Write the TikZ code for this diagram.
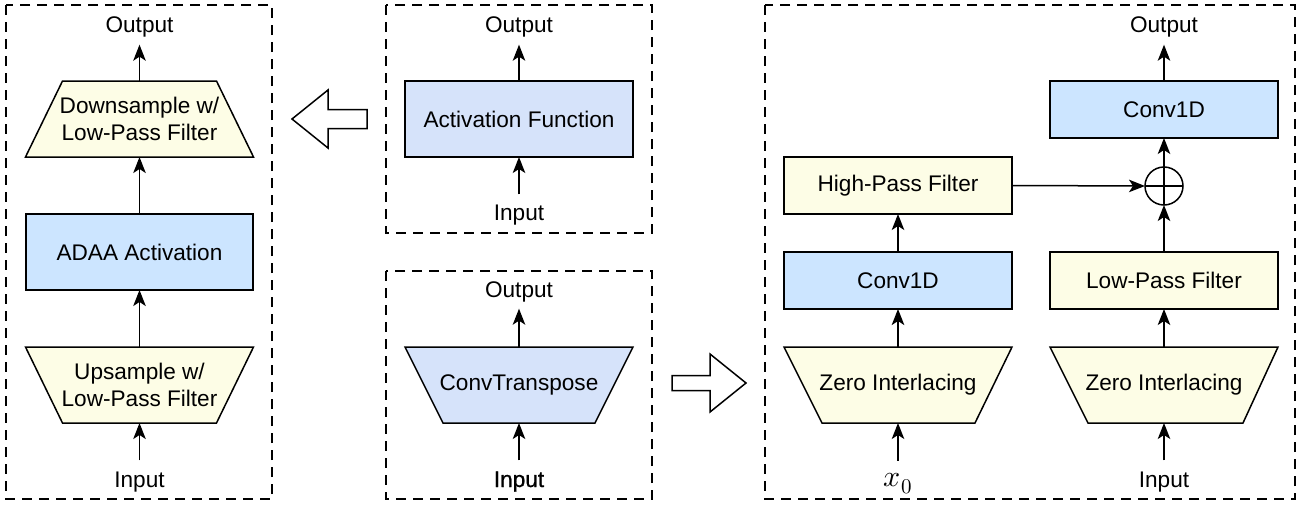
\documentclass[tikz,border=0pt]{standalone}
\usepackage{fontspec}
\usepackage{unicode-math}
\setmainfont{Liberation Sans}
\setmathfont{Latin Modern Math}
\newfontfamily\heavyfont[FakeBold=0.8]{Liberation Sans}
\usetikzlibrary{arrows.meta,calc,backgrounds}

\definecolor{paleyellow}{HTML}{FDFDE6}
\definecolor{convblue}{HTML}{CCE5FF}
\definecolor{actblue}{HTML}{D6E3FA}

\tikzset{
  x=1pt, y=-1pt,
  every node/.style={font=\fontsize{22.6}{27}\selectfont, outer sep=0pt},
  lbl/.style={inner sep=0pt, anchor=base},
  box/.style={draw, line width=1.5pt, minimum width=228pt, inner sep=0pt, align=center},
  tallbox/.style={box, minimum height=76pt},
  flatbox/.style={box, minimum height=57pt},
  trapnode/.style={minimum width=228pt, minimum height=76pt, inner sep=0pt, align=center},
  trapline/.style={draw, line width=1.5pt, line join=miter},
  arr/.style={line width=1.5pt, -{Stealth[length=16pt, width=12.5pt, inset=4pt]}},
  frame/.style={line width=1.4pt, dash pattern=on 10pt off 7pt},
  blockarrow/.style={draw, line width=1.5pt, fill=white, line join=miter},
  sumnode/.style={circle, draw, line width=1.5pt, minimum size=38pt, inner sep=0pt,
    path picture={
      \draw[line width=1.5pt] (path picture bounding box.north) -- (path picture bounding box.south);
      \draw[line width=1.5pt] (path picture bounding box.west) -- (path picture bounding box.east);
    }},
}

\begin{document}
\begin{tikzpicture}
\useasboundingbox (0,0) rectangle (1307,506);

% ---- dashed panels ----
\draw[frame] (6,5) rectangle (272,499);
\draw[frame] (386,5) rectangle (652,233);
\draw[frame] (386,271) rectangle (652,499);
\draw[frame] (765,5) rectangle (1295,499);

% ---- anti-aliased activation block ----
\node[lbl] (o1) at (139.5,32) {Output};
\node[trapnode] (ds) at (139.5,119) {Downsample w/\\Low-Pass Filter};
\node[tallbox, fill=convblue, minimum width=227pt] (adaa) at (139.5,252) {ADAA Activation};
\node[trapnode] (us) at (139.5,385) {Upsample w/\\Low-Pass Filter};
\node[lbl] (i1) at (139.5,487) {Input};

\draw[arr, shorten >=8pt] (ds.north) -- (o1.south);
\draw[arr] (adaa.north) -- (ds.south);
\draw[arr] (us.north) -- (adaa.south);
\draw[arr, shorten <=11pt] (i1.north) -- (us.south);

% ---- plain activation ----
\node[lbl] (o2) at (519,32) {Output};
\node[tallbox, fill=actblue] (act) at (519,119) {Activation Function};
\node[lbl] (i2) at (519,220) {Input};
\draw[arr, shorten >=8pt] (act.north) -- (o2.south);
\draw[arr, shorten <=10pt] (i2.north) -- (act.south);

% ---- transposed convolution ----
\node[lbl] (o3) at (519,297) {Output};
\node[trapnode] (ct) at (519,385) {ConvTranspose};
\node[lbl] (i3) at (519,487) {\heavyfont Input};
\draw[arr, shorten >=7pt] (ct.north) -- (o3.south);
\draw[arr, shorten <=11pt] (i3.north) -- (ct.south);

% ---- alias-free upsampling ----
\node[lbl] (o4) at (1164,32) {Output};
\node[flatbox, fill=convblue] (convout) at (1164,109.5) {Conv1D};
\node[sumnode] (sum) at (1164,186) {};
\node[flatbox, fill=paleyellow] (lpf) at (1164,280.5) {Low-Pass Filter};
\node[trapnode] (zir) at (1164,385) {Zero Interlacing};
\node[lbl] (i4) at (1164,487) {Input};

\node[flatbox, fill=paleyellow] (hpf) at (898,185.5) {High-Pass Filter};
\node[flatbox, fill=convblue] (convx) at (898,280.5) {Conv1D};
\node[trapnode] (zil) at (898,385) {Zero Interlacing};
\node[lbl, font=\fontsize{30}{30}\selectfont] (x0) at (898,486) {$x_0$};

\draw[arr, shorten >=8pt] (convout.north) -- (o4.south);
\draw[arr] (sum.north) -- (convout.south);
\draw[arr] (lpf.north) -- (sum.south);
\draw[arr] (zir.north) -- (lpf.south);
\draw[arr, shorten <=11pt] (i4.north) -- (zir.south);
\draw[arr] (hpf.east) -- (sum.west);
\draw[arr] (convx.north) -- (hpf.south);
\draw[arr, line width=2.2pt] (zil.north) -- (convx.south);
\draw[arr, shorten <=12pt] (x0.north) -- (zil.south);

% ---- trapezoid outlines behind their labels ----
\begin{scope}[on background layer]
  % narrow top
  \path[trapline, fill=paleyellow] ($(ds.north west)+(37,0)$) -- ($(ds.north east)+(-37,0)$)
    -- (ds.south east) -- (ds.south west) -- cycle;
  % narrow bottom
  \path[trapline, fill=paleyellow] (us.north west) -- (us.north east)
    -- ($(us.south east)+(-37,0)$) -- ($(us.south west)+(37,0)$) -- cycle;
  \path[trapline, fill=actblue] (ct.north west) -- (ct.north east)
    -- ($(ct.south east)+(-38,0)$) -- ($(ct.south west)+(38,0)$) -- cycle;
  \path[trapline, fill=paleyellow] (zil.north west) -- (zil.north east)
    -- ($(zil.south east)+(-37,0)$) -- ($(zil.south west)+(38,0)$) -- cycle;
  \path[trapline, fill=paleyellow] (zir.north west) -- (zir.north east)
    -- ($(zir.south east)+(-35,0)$) -- ($(zir.south west)+(38,0)$) -- cycle;
\end{scope}

% ---- hollow block arrows between panels ----
\draw[blockarrow] (292,119) -- (328,90) -- (328,109.5) -- (367,109.5)
  -- (367,128.5) -- (328,128.5) -- (328,148) -- cycle;
\draw[blockarrow] (746,383) -- (710,354) -- (710,375.5) -- (672,375.5)
  -- (672,390.5) -- (710,390.5) -- (710,412) -- cycle;
\end{tikzpicture}
\end{document}
